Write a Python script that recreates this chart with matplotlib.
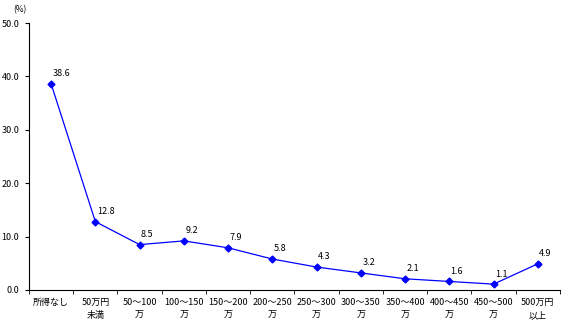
import numpy as np
import matplotlib
matplotlib.use('Agg')
import matplotlib.pyplot as plt

plt.rcParams['font.family'] = ['Noto Sans CJK JP', 'DejaVu Sans']

# income brackets and share (%)
categories = ['所得なし', '50万円\n未満', '50～100\n万', '100～150\n万', '150～200\n万',
              '200～250\n万', '250～300\n万', '300～350\n万', '350～400\n万',
              '400～450\n万', '450～500\n万', '500万円\n以上']
values = [38.6, 12.8, 8.5, 9.2, 7.9, 5.8, 4.3, 3.2, 2.1, 1.6, 1.1, 4.9]

fig = plt.figure(figsize=(5.61, 3.25), dpi=100)
ax = fig.add_axes([0.0517, 0.1077, 0.9463, 0.8215])

x = np.arange(len(values))
ax.plot(x, values, color='#0000ff', linewidth=0.9, marker='D', markersize=3.5)

for xi, v in zip(x, values):
    ax.annotate('%.1f' % v, (xi, v), xytext=(1, 4), textcoords='offset points',
                ha='left', va='bottom', fontsize=6.5)

ax.set_xlim(-0.5, len(values) - 0.5)
ax.set_ylim(0, 50)
ax.set_yticks(np.arange(0, 51, 10))
ax.set_yticklabels(['%.1f' % t for t in np.arange(0, 51, 10)], fontsize=6.5)
ax.set_xticks(x)
ax.set_xticklabels(categories, fontsize=6.5, linespacing=1.5)
ax.set_xticks(np.arange(-0.5, len(values), 1), minor=True)
ax.tick_params(axis='x', which='major', length=0, pad=6)
ax.tick_params(axis='x', which='minor', length=3, direction='out')
ax.tick_params(axis='y', length=3, direction='out', pad=4)

ax.spines['top'].set_visible(False)
ax.spines['right'].set_visible(False)

fig.text(0.036, 0.97, '(%)', fontsize=6, ha='center', va='center')

fig.savefig('out.png', dpi=100)
